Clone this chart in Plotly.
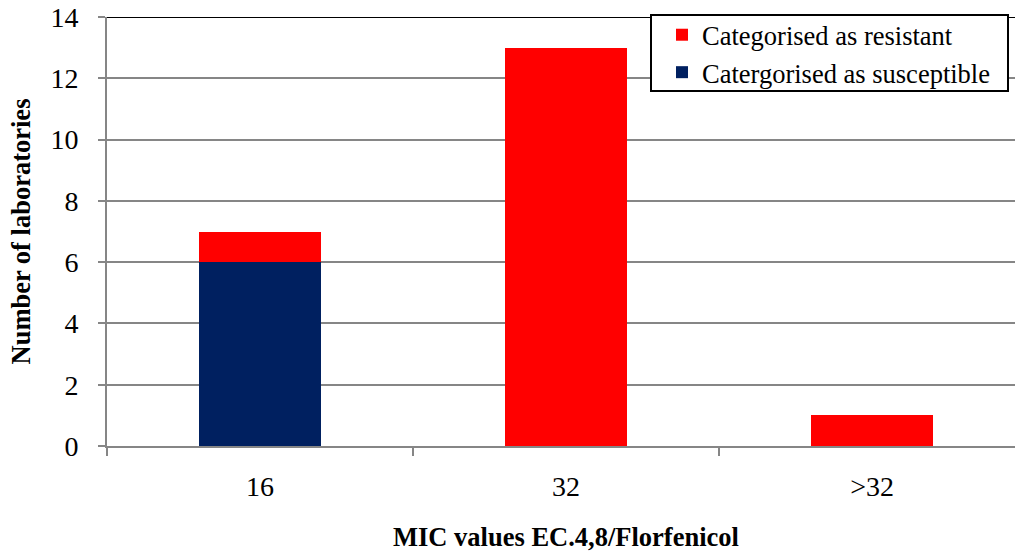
import plotly.graph_objects as go

# MIC categories and laboratory counts
mic_values = ["16", "32", ">32"]
susceptible = [6, 0, 0]
resistant = [1, 13, 1]

y_ticks = [0, 2, 4, 6, 8, 10, 12, 14]

RED = "#FF0000"
NAVY = "#002060"
GRID = "#868686"
FONT = "Liberation Serif"
TICK_FS = 28
LEGEND_FS = 26.5
TITLE_FS = 26.5

fig = go.Figure()
fig.add_trace(go.Bar(
    x=mic_values, y=susceptible, name="Catergorised as susceptible",
    marker=dict(color=NAVY, line=dict(width=0)), width=0.4,
))
fig.add_trace(go.Bar(
    x=mic_values, y=resistant, name="Categorised as resistant",
    marker=dict(color=RED, line=dict(width=0)), width=0.4,
))

W, H = 1015, 552
ml, mt, mb = 107, 17, 106
pw, ph = W - ml, H - mt - mb


def px_x(x):
    return (x - ml) / pw


def px_y(y):
    return (H - mb - y) / ph


fig.update_layout(
    width=W, height=H,
    barmode="stack",
    plot_bgcolor="white", paper_bgcolor="white",
    margin=dict(l=ml, r=0, t=mt, b=mb, pad=0),
    font=dict(family=FONT, size=TICK_FS, color="black"),
    showlegend=True,
    legend=dict(
        x=px_x(662), y=px_y(11),
        xanchor="left", yanchor="top",
        bgcolor="rgba(0,0,0,0)", borderwidth=0,
        font=dict(family=FONT, size=LEGEND_FS, color="black"),
        traceorder="reversed",
        itemsizing="constant",
    ),
    xaxis=dict(
        type="category",
        range=[-0.5, 2.467],
        showgrid=False, zeroline=False,
        showline=True, linecolor=GRID, linewidth=2,
        ticks="outside", tickson="boundaries", ticklen=8,
        tickcolor=GRID, tickwidth=2,
        tickfont=dict(family=FONT, size=TICK_FS, color="black"),
        ticklabelstandoff=14,
    ),
    yaxis=dict(
        range=[0, 14], tickvals=y_ticks,
        showgrid=True, gridcolor=GRID, gridwidth=2,
        zeroline=False,
        showline=True, linecolor=GRID, linewidth=2,
        ticks="outside", ticklen=7, tickcolor=GRID, tickwidth=2,
        tickfont=dict(family=FONT, size=TICK_FS, color="black"),
        ticklabelstandoff=14,
    ),
    shapes=[
        dict(
            type="line", xref="paper", yref="y",
            x0=0, x1=1, y0=14, y1=14,
            line=dict(color="black", width=2), layer="above",
        ),
        # legend frame
        dict(
            type="rect", xref="paper", yref="paper",
            x0=px_x(651), x1=px_x(1008), y0=px_y(91), y1=px_y(15),
            fillcolor="white", line=dict(color="black", width=2),
            layer="above",
        ),
    ],
    annotations=[
        dict(
            text="<b>MIC values EC.4,8/Florfenicol</b>",
            xref="paper", yref="paper",
            x=px_x(566), y=px_y(537),
            xanchor="center", yanchor="middle", showarrow=False,
            font=dict(family=FONT, size=TITLE_FS, color="black"),
        ),
        dict(
            text="<b>Number of laboratories</b>",
            xref="paper", yref="paper",
            x=px_x(20), y=0.5,
            xanchor="center", yanchor="middle", showarrow=False,
            textangle=-90,
            font=dict(family=FONT, size=TITLE_FS, color="black"),
        ),
    ],
)

fig.write_html("out.html")
